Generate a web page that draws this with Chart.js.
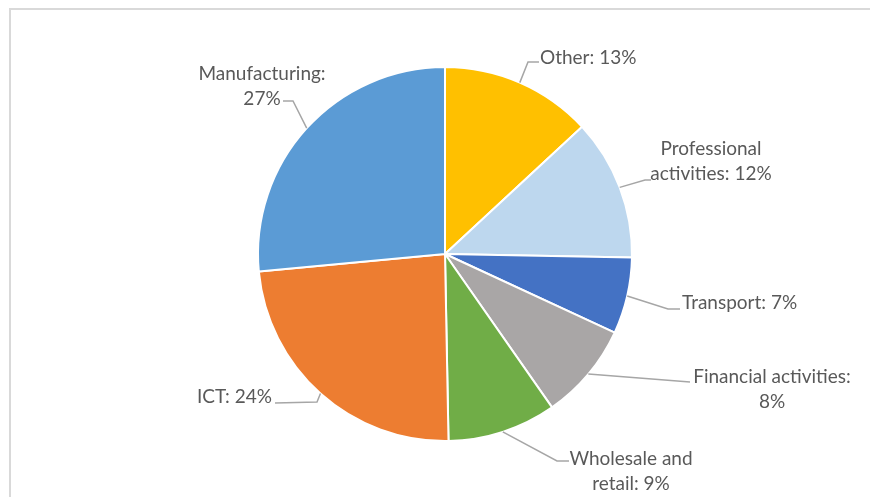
<!DOCTYPE html>
<html>
<head>
<meta charset="utf-8">
<script src="https://cdn.jsdelivr.net/npm/chart.js@4/dist/chart.umd.min.js"></script>
<style>
  html, body { margin: 0; padding: 0; background: #fff; }
  #wrap { position: relative; width: 870px; height: 497px; overflow: hidden; }
  #frame { position: absolute; left: 9px; top: 8px; width: 900px; height: 520px; border: 2px solid #d9d9d9; box-sizing: border-box; }
  canvas { position: absolute; left: 0; top: 0; }
</style>
</head>
<body>
<div id="wrap">
  <div id="frame"></div>
  <canvas id="pie" width="870" height="497"></canvas>
</div>
<script>
const sectors = [
    "Other",
    "Professional activities",
    "Transport",
    "Financial activities",
    "Wholesale and retail",
    "ICT",
    "Manufacturing",
];
// shares as measured off the slices; the labels show them rounded
const shares = [13.1, 12.2, 6.6, 8.4, 9.4, 23.8, 26.5];
const colors = ['#FFC000', '#BDD7EE', '#4472C4', '#A9A6A6', '#70AD47', '#ED7D31', '#5B9BD5'];

// where each label wraps (first line / rest)
const wrapAt = [
    null,
    "Professional",
    null,
    "Financial activities:",
    "Wholesale and",
    null,
    "Manufacturing:",
];

// label placement, offsets from the pie centre
const labelPlace = [
    { x: 95,   y: -196, align: 'left',   elbow: [83, -192],   end: [94, -192] },
    { x: 266,  y: -105, align: 'center', elbow: [200, -74],   end: [206, -74] },
    { x: 237,  y: 49,   align: 'left',   elbow: [223, 55],    end: [235, 55] },
    { x: 327,  y: 123,  align: 'center', elbow: [245, 128],   end: [245, 128] },
    { x: 186,  y: 205,  align: 'center', elbow: [112, 207],   end: [124, 207] },
    { x: -173, y: 143,  align: 'right',  elbow: [-128, 148],  end: [-170, 149] },
    { x: -183, y: -180, align: 'center', elbow: [-152, -153], end: [-162, -153] },
];

function labelText(i) {
    const full = sectors[i] + ": " + Math.round(shares[i]) + "%";
    const w = wrapAt[i];
    if (!w) return [full];
    return [w, full.slice(w.length).trim()];
}

const pieLabels = {
    id: 'pieLabels',
    afterDraw(chart) {
        const ctx = chart.ctx;
        const meta = chart.getDatasetMeta(0);
        ctx.save();
        ctx.font = '19px Lato, "Open Sans", sans-serif';
        ctx.textBaseline = 'middle';
        meta.data.forEach((arc, i) => {
            const p = arc.getProps(['x', 'y', 'startAngle', 'endAngle', 'outerRadius'], true);
            const mid = (p.startAngle + p.endAngle) / 2;
            const sx = p.x + Math.cos(mid) * p.outerRadius;
            const sy = p.y + Math.sin(mid) * p.outerRadius;
            const lp = labelPlace[i];
            ctx.strokeStyle = '#a6a6a6';
            ctx.lineWidth = 1.5;
            ctx.beginPath();
            ctx.moveTo(sx, sy);
            ctx.lineTo(p.x + lp.elbow[0], p.y + lp.elbow[1]);
            ctx.lineTo(p.x + lp.end[0], p.y + lp.end[1]);
            ctx.stroke();
            ctx.fillStyle = '#595959';
            ctx.textAlign = lp.align;
            labelText(i).forEach((t, k) => {
                ctx.fillText(t, p.x + lp.x, p.y + lp.y + k * 25);
            });
        });
        ctx.restore();
    }
};

const config = {
    type: 'pie',
    data: {
        labels: sectors,
        datasets: [{
            data: shares,
            backgroundColor: colors,
            borderColor: '#ffffff',
            borderWidth: 2,
        }],
    },
    options: {
        responsive: false,
        animation: false,
        layout: { padding: { top: 66, bottom: 55, left: 257, right: 237 } },
        plugins: {
            legend: { display: false },
            tooltip: { enabled: false },
        },
    },
    plugins: [pieLabels],
};

const Pie_chart = new Chart(document.getElementById("pie").getContext("2d"), config);
</script>
</body>
</html>
